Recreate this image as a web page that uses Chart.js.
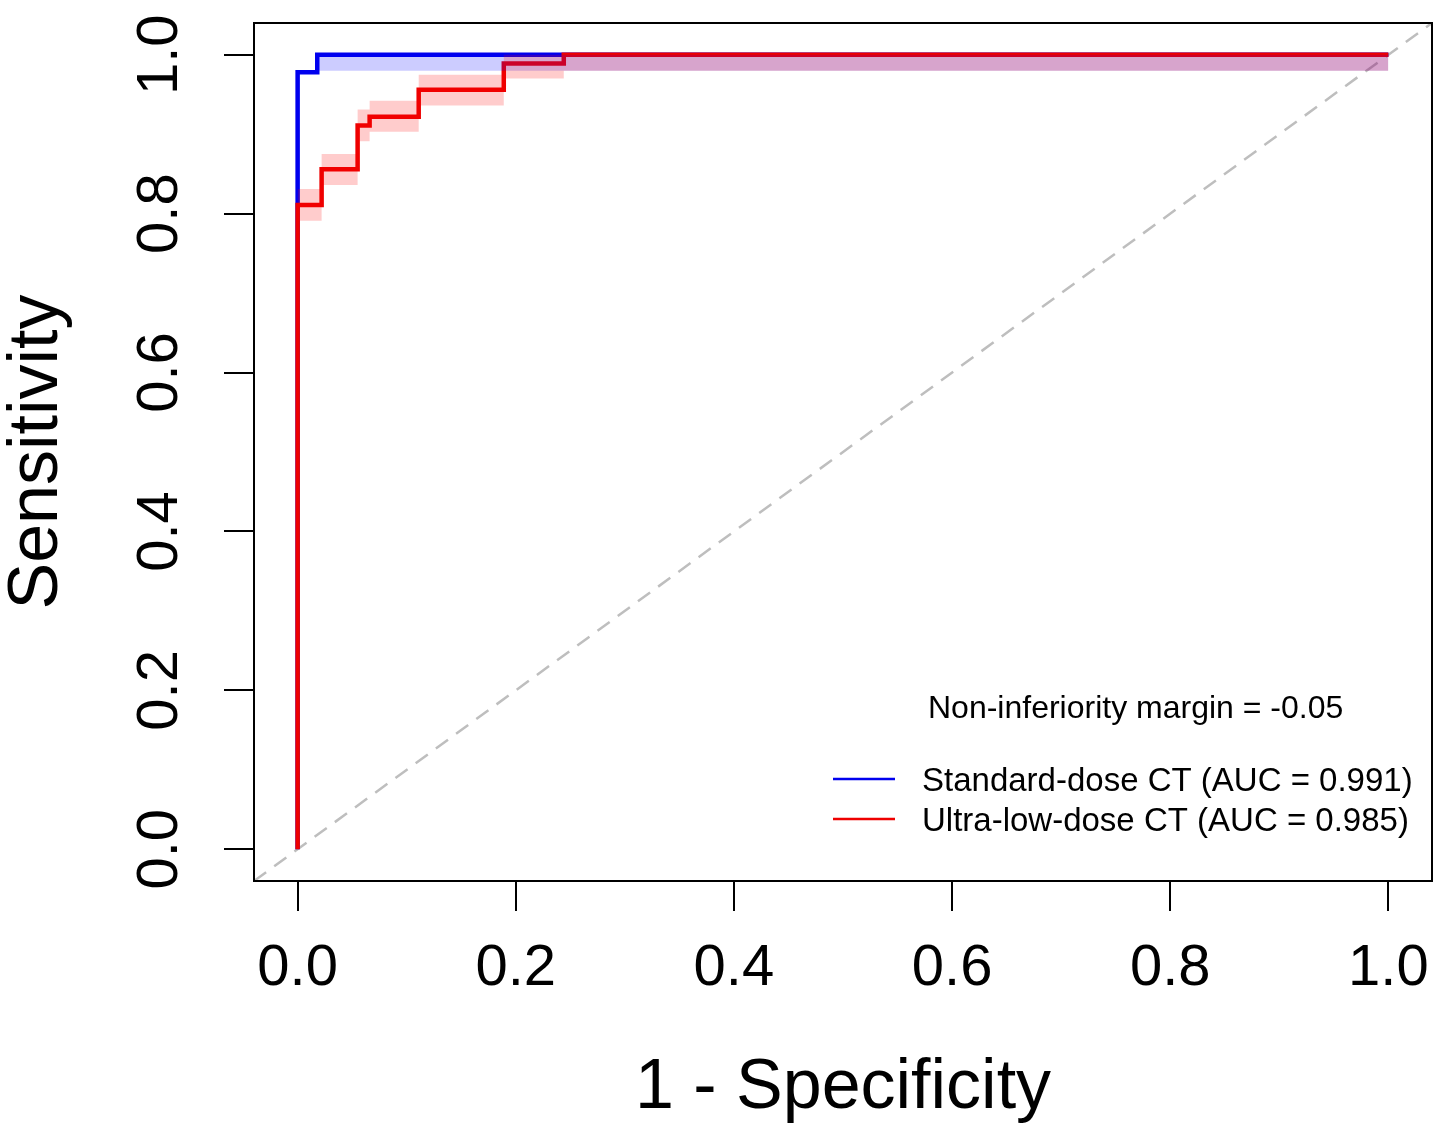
<!DOCTYPE html>
<html><head><meta charset="utf-8">
<script src="https://cdn.jsdelivr.net/npm/chart.js@4.4.1/dist/chart.umd.min.js"></script>
<style>html,body{margin:0;padding:0;background:#fff;} #wrap{width:1442px;height:1138px;position:relative;}</style>
</head><body><div id="wrap"><canvas id="c"></canvas></div>
<script>
// ---- data ----
const tickValues = [0, 0.2, 0.4, 0.6, 0.8, 1.0];
const tickLabels = ['0.0', '0.2', '0.4', '0.6', '0.8', '1.0'];
const xTitle = '1 - Specificity';
const yTitle = 'Sensitivity';
const seriesNames = ['Standard-dose CT (AUC = 0.991)', 'Ultra-low-dose CT (AUC = 0.985)'];
const noteText = 'Non-inferiority margin = -0.05';

// Standard-dose ROC (1 - specificity, sensitivity)
const stdFpr = [0, 0, 0.018, 1.0];
const stdTpr = [0, 0.978, 1.0, 1.0];
// Standard-dose sensitivity CI band
const stdBandFpr = [0.018, 1.0];
const stdBandHigh = [1.0, 1.0];
const stdBandLow = [0.980, 0.980];

// Ultra-low-dose ROC
const uldFpr = [0, 0, 0.022, 0.055, 0.066, 0.111, 0.189, 0.244, 1.0];
const uldTpr = [0, 0.811, 0.856, 0.911, 0.922, 0.956, 0.989, 1.0, 1.0];
// Ultra-low-dose sensitivity CI band
const uldBandFpr = [0, 0.022, 0.055, 0.066, 0.111, 0.189, 0.244, 1.0];
const uldBandHigh = [0.831, 0.875, 0.931, 0.942, 0.975, 1.0, 1.0, 1.0];
const uldBandLow = [0.791, 0.836, 0.891, 0.903, 0.936, 0.970, 0.980, 0.980];

// chance diagonal
const diagX = [-0.04, 1.04];
const diagY = [-0.04, 1.04];

// ---- styling ----
const FONT = "'Liberation Sans', Arial, sans-serif";
const BLUE = '#0000EE';
const RED = '#EE0000';
const pts = (xs, ys) => xs.map((x, i) => ({x: x, y: ys[i]}));
const none = 'rgba(0,0,0,0)';

const datasets = [
  {label: 'diag', data: pts(diagX, diagY), showLine: true, borderColor: '#BEBEBE', borderWidth: 2.5,
   borderDash: [15, 10], pointRadius: 0, order: 10, fill: false},
  {label: seriesNames[0], data: pts(stdFpr, stdTpr), showLine: true, stepped: 'before', borderColor: BLUE,
   borderWidth: 4.5, pointRadius: 0, order: 9, fill: false, borderJoinStyle: 'miter'},
  {label: seriesNames[1], data: pts(uldFpr, uldTpr), showLine: true, stepped: 'before', borderColor: RED,
   borderWidth: 4.5, pointRadius: 0, order: 8, fill: false, borderJoinStyle: 'miter'},
  {label: 'stdHigh', data: pts(stdBandFpr, stdBandHigh), showLine: true, stepped: 'before', borderColor: none,
   borderWidth: 1, pointRadius: 0, order: 5, fill: false},
  {label: 'stdLow', data: pts(stdBandFpr, stdBandLow), showLine: true, stepped: 'before', borderColor: none,
   borderWidth: 1, pointRadius: 0, order: 5, fill: '-1', backgroundColor: 'rgba(0,0,255,0.2)'},
  {label: 'uldHigh', data: pts(uldBandFpr, uldBandHigh), showLine: true, stepped: 'before', borderColor: none,
   borderWidth: 1, pointRadius: 0, order: 4, fill: false},
  {label: 'uldLow', data: pts(uldBandFpr, uldBandLow), showLine: true, stepped: 'before', borderColor: none,
   borderWidth: 1, pointRadius: 0, order: 4, fill: '-1', backgroundColor: 'rgba(255,0,0,0.2)'}
];

const boxAndLegend = {
  id: 'boxAndLegend',
  afterDraw(chart) {
    const ctx = chart.ctx;
    const a = chart.chartArea;
    ctx.save();
    ctx.strokeStyle = '#000';
    ctx.lineWidth = 2;
    ctx.strokeRect(a.left, a.top, a.right - a.left, a.bottom - a.top);
    // legend inside plot
    ctx.fillStyle = '#000';
    ctx.font = '32px ' + FONT;
    ctx.textAlign = 'left';
    ctx.textBaseline = 'alphabetic';
    ctx.fillText(noteText, 928, 718);
    ctx.font = '33px ' + FONT;
    const cols = [BLUE, RED];
    const ys = [779, 819];
    for (let i = 0; i < 2; i++) {
      ctx.strokeStyle = cols[i];
      ctx.lineWidth = 2.5;
      ctx.beginPath();
      ctx.moveTo(833, ys[i]);
      ctx.lineTo(895, ys[i]);
      ctx.stroke();
      ctx.fillText(seriesNames[i], 922, ys[i] + 12);
    }
    ctx.restore();
  }
};

const tickLabel = v => {
  const i = tickValues.findIndex(t => Math.abs(t - v) < 1e-9);
  return i >= 0 ? tickLabels[i] : '';
};

new Chart(document.getElementById('c'), {
  type: 'scatter',
  data: {datasets: datasets},
  options: {
    responsive: true,
    maintainAspectRatio: false,
    animation: false,
    layout: {padding: {top: 23, right: 10, left: 0, bottom: 0}},
    plugins: {legend: {display: false}, tooltip: {enabled: false}},
    scales: {
      x: {
        type: 'linear', min: -0.04, max: 1.04,
        afterBuildTicks: s => { s.ticks = tickValues.map(v => ({value: v})); },
        afterFit: s => { s.height = 257; s.paddingLeft = 0; s.paddingRight = 0; },
        grid: {display: true, drawOnChartArea: false, drawTicks: true, tickLength: 30, tickWidth: 2, tickColor: '#000', color: '#000', lineWidth: 2},
        border: {display: false},
        ticks: {font: {family: FONT, size: 58}, color: '#000', padding: 23, minRotation: 0, maxRotation: 0, autoSkip: false, callback: v => tickLabel(v)},
        title: {display: true, text: xTitle, color: '#000', font: {family: FONT, size: 70, lineHeight: 1}, padding: {top: 0, bottom: 14}}
      },
      y: {
        type: 'linear', min: -0.04, max: 1.04,
        afterBuildTicks: s => { s.ticks = tickValues.map(v => ({value: v})); },
        afterFit: s => { s.width = 254; s.paddingTop = 0; s.paddingBottom = 0; },
        grid: {display: true, drawOnChartArea: false, drawTicks: true, tickLength: 30, tickWidth: 2, tickColor: '#000', color: '#000', lineWidth: 2},
        border: {display: false},
        ticks: {font: {family: FONT, size: 58}, color: '#000', padding: 23, minRotation: 90, maxRotation: 90, crossAlign: 'center', autoSkip: false, callback: v => tickLabel(v)},
        title: {display: true, text: yTitle, color: '#000', font: {family: FONT, size: 70, lineHeight: 1}, padding: {top: 3, bottom: 0}}
      }
    }
  },
  plugins: [boxAndLegend]
});
</script>
</body></html>
